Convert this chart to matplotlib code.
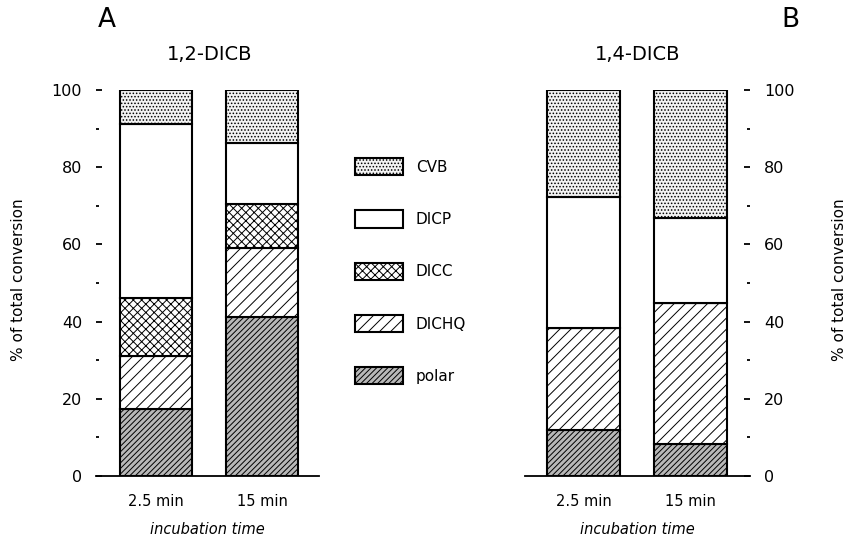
import matplotlib.pyplot as plt
from matplotlib.patches import Patch
from matplotlib.ticker import MultipleLocator
import numpy as np

plt.rcParams['font.family'] = 'DejaVu Sans'
plt.rcParams['hatch.linewidth'] = 0.7

# data (percent of total conversion)
times = ['2.5 min', '15 min']
components = ['polar', 'DICHQ', 'DICC', 'DICP', 'CVB']
dicb12 = {
    'polar': [17.3, 41.3],
    'DICHQ': [13.8, 17.7],
    'DICC': [14.9, 11.4],
    'DICP': [45.2, 15.8],
    'CVB': [8.8, 13.8],
}
dicb14 = {
    'polar': [11.9, 8.3],
    'DICHQ': [26.5, 36.4],
    'DICC': [0.0, 0.0],
    'DICP': [34.0, 22.2],
    'CVB': [27.6, 33.1],
}

styles = {
    'polar': dict(facecolor='#b8b8b8', hatch='//////'),
    'DICHQ': dict(facecolor='white', hatch='///'),
    'DICC': dict(facecolor='white', hatch='xxxx'),
    'DICP': dict(facecolor='white', hatch=''),
    'CVB': dict(facecolor='#f2f2f2', hatch='.....'),
}

fig = plt.figure(figsize=(8.5, 5.38), dpi=100)
axA = fig.add_axes([0.113, 0.1152, 0.2624, 0.7175])
axB = fig.add_axes([0.6176, 0.1152, 0.2647, 0.7175])


def draw_panel(ax, data, xlim, side):
    x = np.arange(len(times))
    bottom = np.zeros(len(times))
    for comp in components:
        vals = np.array(data[comp])
        ax.bar(x, vals, bottom=bottom, width=0.68, edgecolor='black',
               linewidth=1.5, **styles[comp])
        bottom += vals
    ax.set_xlim(*xlim)
    ax.set_ylim(0, 100)
    for s in ['top', 'left', 'right']:
        ax.spines[s].set_visible(False)
    ax.spines['bottom'].set_linewidth(1.3)
    ax.set_xticks(x)
    ax.set_xticklabels(times, fontsize=10.5)
    ax.tick_params(axis='x', length=0, pad=13)
    ax.yaxis.set_major_locator(MultipleLocator(20))
    ax.yaxis.set_minor_locator(MultipleLocator(10))
    if side == 'right':
        ax.yaxis.tick_right()
    ax.tick_params(axis='y', which='major', direction='in', length=4, width=1.3,
                   labelsize=11.5, pad=10)
    ax.tick_params(axis='y', which='minor', direction='in', length=2, width=1.3)
    ax.set_xlabel('incubation time', fontsize=10.5, style='italic', labelpad=9)


draw_panel(axA, dicb12, (-0.566, 1.538), 'left')
draw_panel(axB, dicb14, (-0.547, 1.556), 'right')

fig.text(0.126, 0.962, 'A', fontsize=19, ha='center', va='center')
fig.text(0.247, 0.899, '1,2-DICB', fontsize=14, ha='center', va='center')
fig.text(0.930, 0.962, 'B', fontsize=19, ha='center', va='center')
fig.text(0.750, 0.899, '1,4-DICB', fontsize=14, ha='center', va='center')

fig.text(0.022, 0.48, '% of total conversion', rotation=90, fontsize=11,
         ha='center', va='center')
fig.text(0.988, 0.48, '% of total conversion', rotation=90, fontsize=11,
         ha='center', va='center')

handles = [Patch(edgecolor='black', linewidth=1.5, label=c, **styles[c])
           for c in components[::-1]]
fig.legend(handles=handles, loc='upper left', bbox_to_anchor=(0.418, 0.706),
           frameon=False, fontsize=11, handlelength=3.1, handleheight=1.35,
           handletextpad=0.85, labelspacing=2.3, borderpad=0, borderaxespad=0)

fig.savefig('out.png', dpi=100)
